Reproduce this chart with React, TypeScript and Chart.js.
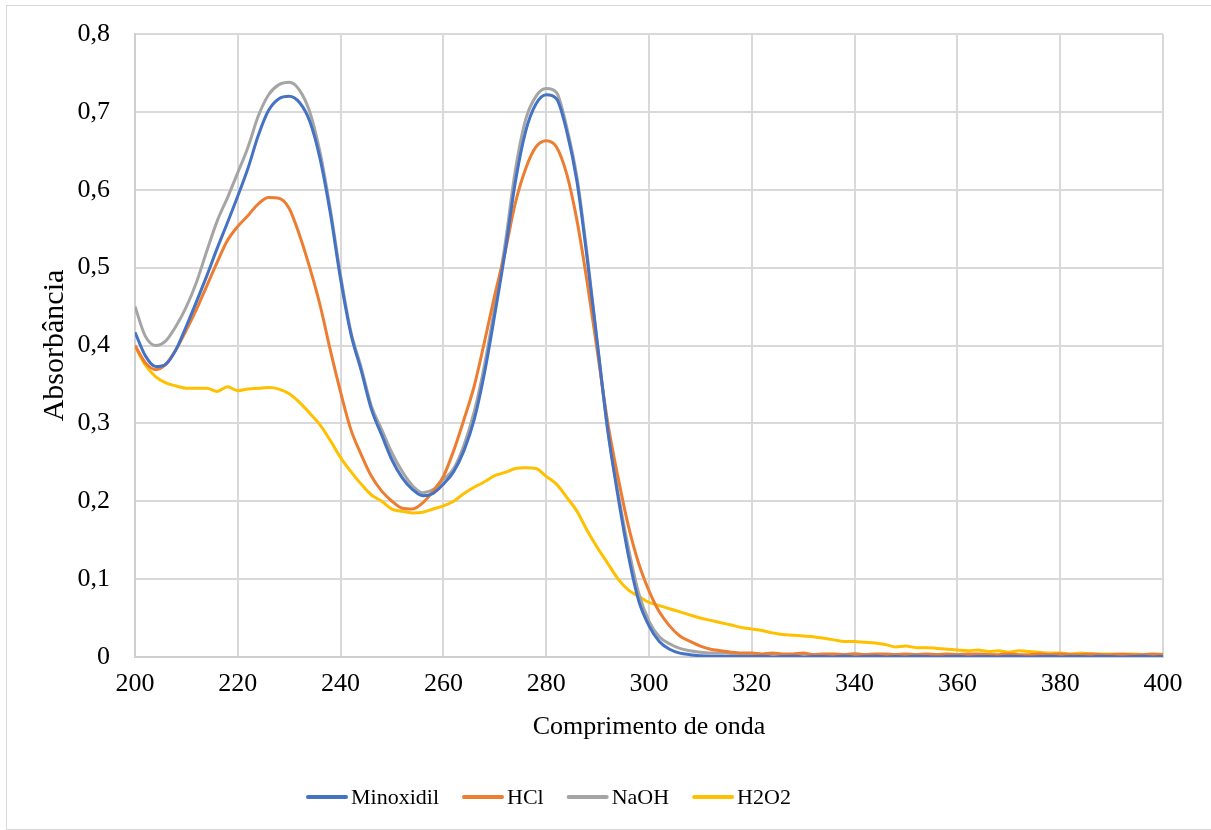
import React, { useEffect, useRef } from "react";
import { Chart, registerables } from "chart.js";

Chart.register(...registerables);

const wavelengths = [
  200, 202, 204, 206, 208, 210, 212, 214, 216, 218,
  220, 222, 224, 226, 228, 230, 232, 234, 236, 238,
  240, 242, 244, 246, 248, 250, 252, 254, 256, 258,
  260, 262, 264, 266, 268, 270, 272, 274, 276, 278,
  280, 282, 284, 286, 288, 290, 292, 294, 296, 298,
  300, 302, 304, 306, 308, 310, 312, 314, 316, 318,
  320, 322, 324, 326, 328, 330, 332, 334, 336, 338,
  340, 342, 344, 346, 348, 350, 352, 354, 356, 358,
  360, 362, 364, 366, 368, 370, 372, 374, 376, 378,
  380, 382, 384, 386, 388, 390, 392, 394, 396, 398,
  400,
];

const minoxidil = [
  0.417, 0.387, 0.373, 0.376, 0.395, 0.425, 0.457, 0.49, 0.525, 0.558,
  0.592, 0.628, 0.67, 0.702, 0.717, 0.72, 0.712, 0.688, 0.64, 0.57,
  0.485, 0.415, 0.368, 0.318, 0.285, 0.253, 0.23, 0.215, 0.207, 0.21,
  0.222, 0.238, 0.265, 0.305, 0.365, 0.44, 0.52, 0.61, 0.675, 0.71,
  0.722, 0.717, 0.675, 0.61, 0.51, 0.4, 0.29, 0.205, 0.13, 0.072,
  0.04, 0.02, 0.01, 0.005, 0.003, 0.0015, 0.001, 0.001, 0.0005, 0.0005,
  0.0005, 0.001, 0, 0.0005, 0.001, 0, 0.0005, 0.0005, 0, 0.001,
  0, 0.0005, 0.001, 0, 0.0005, 0, 0.001, 0.0005, 0, 0.0005,
  0.001, 0, 0.0005, 0.0005, 0, 0.001, 0.0005, 0, 0.0005, 0.001,
  0, 0.0005, 0.0005, 0, 0.001, 0.0005, 0, 0.0005, 0.001, 0,
  0.001,
];

const hcl = [
  0.4, 0.378, 0.369, 0.376, 0.395, 0.42, 0.447, 0.477, 0.507, 0.535,
  0.553, 0.567, 0.582, 0.59, 0.589, 0.576, 0.542, 0.5, 0.452, 0.394,
  0.34, 0.292, 0.26, 0.232, 0.213, 0.2, 0.191, 0.19, 0.198, 0.213,
  0.232, 0.265, 0.305, 0.348, 0.405, 0.465, 0.52, 0.583, 0.627, 0.655,
  0.663, 0.655, 0.62, 0.56, 0.48, 0.39, 0.3, 0.23, 0.168, 0.12,
  0.085, 0.058, 0.04, 0.027, 0.02, 0.014, 0.01, 0.008, 0.006, 0.005,
  0.005, 0.004, 0.005, 0.004, 0.004, 0.005, 0.003, 0.004, 0.004, 0.003,
  0.004, 0.003, 0.004, 0.004, 0.003, 0.004, 0.003, 0.004, 0.003, 0.004,
  0.003, 0.004, 0.004, 0.003, 0.003, 0.004, 0.003, 0.003, 0.004, 0.003,
  0.004, 0.003, 0.003, 0.004, 0.003, 0.003, 0.004, 0.003, 0.003, 0.004,
  0.003,
];

const naoh = [
  0.45, 0.412, 0.4, 0.406, 0.425, 0.45, 0.482, 0.522, 0.56, 0.59,
  0.622, 0.655, 0.695, 0.722, 0.735, 0.738, 0.728, 0.7, 0.648, 0.575,
  0.49, 0.418, 0.372, 0.322, 0.292, 0.262, 0.238, 0.22, 0.211, 0.215,
  0.228, 0.242, 0.272, 0.315, 0.375, 0.45, 0.53, 0.625, 0.69, 0.72,
  0.73, 0.725, 0.68, 0.615, 0.515, 0.4, 0.29, 0.21, 0.14, 0.082,
  0.046, 0.026, 0.017, 0.011, 0.008, 0.006, 0.005, 0.005, 0.0045, 0.004,
  0.004, 0.003, 0.004, 0.003, 0.003, 0.004, 0.003, 0.002, 0.003, 0.003,
  0.004, 0.003, 0.003, 0.002, 0.003, 0.003, 0.003, 0.002, 0.003, 0.003,
  0.002, 0.003, 0.002, 0.003, 0.002, 0.003, 0.002, 0.002, 0.003, 0.002,
  0.002, 0.003, 0.002, 0.002, 0.002, 0.002, 0.003, 0.002, 0.002, 0.002,
  0.003,
];

const h2o2 = [
  0.399, 0.375, 0.36, 0.352, 0.348, 0.345, 0.345, 0.345, 0.341, 0.347,
  0.342, 0.344, 0.345, 0.346, 0.344, 0.338, 0.327, 0.313, 0.298, 0.278,
  0.256, 0.238, 0.222, 0.208, 0.2, 0.19, 0.187, 0.185, 0.186, 0.19,
  0.194, 0.2, 0.21, 0.218, 0.225, 0.233, 0.237, 0.242, 0.243, 0.242,
  0.232, 0.222, 0.205, 0.187, 0.162, 0.14, 0.12, 0.1, 0.086, 0.078,
  0.07, 0.066, 0.062, 0.058, 0.054, 0.05, 0.047, 0.044, 0.041, 0.038,
  0.036, 0.034, 0.031, 0.029, 0.028, 0.027, 0.026, 0.024, 0.022, 0.02,
  0.02, 0.019, 0.018, 0.016, 0.013, 0.014, 0.012, 0.012, 0.011, 0.01,
  0.009, 0.008, 0.009, 0.007, 0.008, 0.006, 0.008, 0.007, 0.006, 0.005,
  0.005, 0.004, 0.005, 0.004, 0.004, 0.004, 0.003, 0.004, 0.003, 0.002,
  0.004,
];

const seriesNames = ["Minoxidil", "HCl", "NaOH", "H2O2"];
const seriesColors = ["#4472C4", "#ED7D31", "#A5A5A5", "#FFC000"];
const seriesValues = [minoxidil, hcl, naoh, h2o2];

const xTicks = [200, 220, 240, 260, 280, 300, 320, 340, 360, 380, 400];
const yTicks = [0, 0.1, 0.2, 0.3, 0.4, 0.5, 0.6, 0.7, 0.8];

const FONT = "'Liberation Serif', 'Times New Roman', serif";

const bottomLegend = {
  id: "bottomLegend",
  afterDraw(chart: any) {
    const ctx = chart.ctx;
    ctx.save();
    ctx.font = `22px ${FONT}`;
    ctx.textBaseline = "middle";
    ctx.textAlign = "left";
    const cy = 797;
    let x = 306;
    chart.data.datasets.forEach((ds: any) => {
      ctx.strokeStyle = ds.borderColor;
      ctx.lineWidth = 4;
      ctx.lineCap = "round";
      ctx.beginPath();
      ctx.moveTo(x + 2, cy);
      ctx.lineTo(x + 40, cy);
      ctx.stroke();
      x += 45;
      ctx.fillStyle = "#000";
      ctx.fillText(ds.label, x, cy + 1);
      x += ctx.measureText(ds.label).width + 23;
    });
    ctx.restore();
  },
};

export default function App() {
  const canvasRef = useRef<HTMLCanvasElement | null>(null);

  useEffect(() => {
    document.body.style.margin = "0";
    const canvas = canvasRef.current;
    if (!canvas) return;
    const chart = new Chart(canvas, {
      type: "line",
      data: {
        datasets: seriesNames.map((name, s) => ({
          label: name,
          data: wavelengths.map((x, i) => ({ x, y: seriesValues[s][i] })),
          borderColor: seriesColors[s],
          backgroundColor: seriesColors[s],
          borderWidth: 3,
          pointRadius: 0,
          pointHoverRadius: 0,
          fill: false,
          cubicInterpolationMode: "monotone" as const,
        })),
      },
      options: {
        responsive: false,
        animation: false,
        devicePixelRatio: 1,
        layout: { padding: { top: 34, right: 48, bottom: 56, left: 0 } },
        plugins: {
          tooltip: { enabled: false },
          legend: { display: false },
        },
        scales: {
          x: {
            type: "linear",
            min: 200,
            max: 400,
            afterBuildTicks: (scale: any) => {
              scale.ticks = xTicks.map((v) => ({ value: v }));
            },
            afterFit: (scale: any) => {
              scale.height = 117;
            },
            ticks: {
              color: "#000",
              font: { family: FONT, size: 26 },
              padding: 12,
              maxRotation: 0,
              callback: (v: any) => String(v),
            },
            grid: { color: "#d9d9d9", lineWidth: 2, drawTicks: false },
            border: { color: "#cfcfcf", width: 2 },
            title: {
              display: true,
              text: "Comprimento de onda",
              color: "#000",
              font: { family: FONT, size: 26 },
              padding: { top: 0, bottom: 31 },
            },
          },
          y: {
            type: "linear",
            min: 0,
            max: 0.8,
            afterBuildTicks: (scale: any) => {
              scale.ticks = yTicks.map((v) => ({ value: v }));
            },
            afterFit: (scale: any) => {
              scale.width = 135;
              scale.paddingTop = 0;
              scale.paddingBottom = 0;
            },
            ticks: {
              color: "#000",
              font: { family: FONT, size: 26 },
              padding: 25,
              callback: (v: any) =>
                Number(v) === 0 ? "0" : Number(v).toFixed(1).replace(".", ","),
            },
            grid: { color: "#d9d9d9", lineWidth: 2, drawTicks: false },
            border: { color: "#cfcfcf", width: 2 },
            title: {
              display: true,
              text: "Absorbância",
              color: "#000",
              font: { family: FONT, size: 30 },
              padding: { top: 37, bottom: 0 },
            },
          },
        },
      },
      plugins: [bottomLegend],
    } as any);
    return () => chart.destroy();
  }, []);

  return (
    <div
      style={{
        position: "relative",
        width: 1211,
        height: 830,
        overflow: "hidden",
        background: "#fff",
      }}
    >
      <canvas
        ref={canvasRef}
        width={1211}
        height={830}
        style={{ position: "absolute", left: 0, top: 0, width: 1211, height: 830 }}
      />
      <div
        style={{
          position: "absolute",
          left: 6,
          top: 5,
          width: 1240,
          height: 823,
          border: "1px solid #d9d9d9",
          pointerEvents: "none",
        }}
      />
    </div>
  );
}
